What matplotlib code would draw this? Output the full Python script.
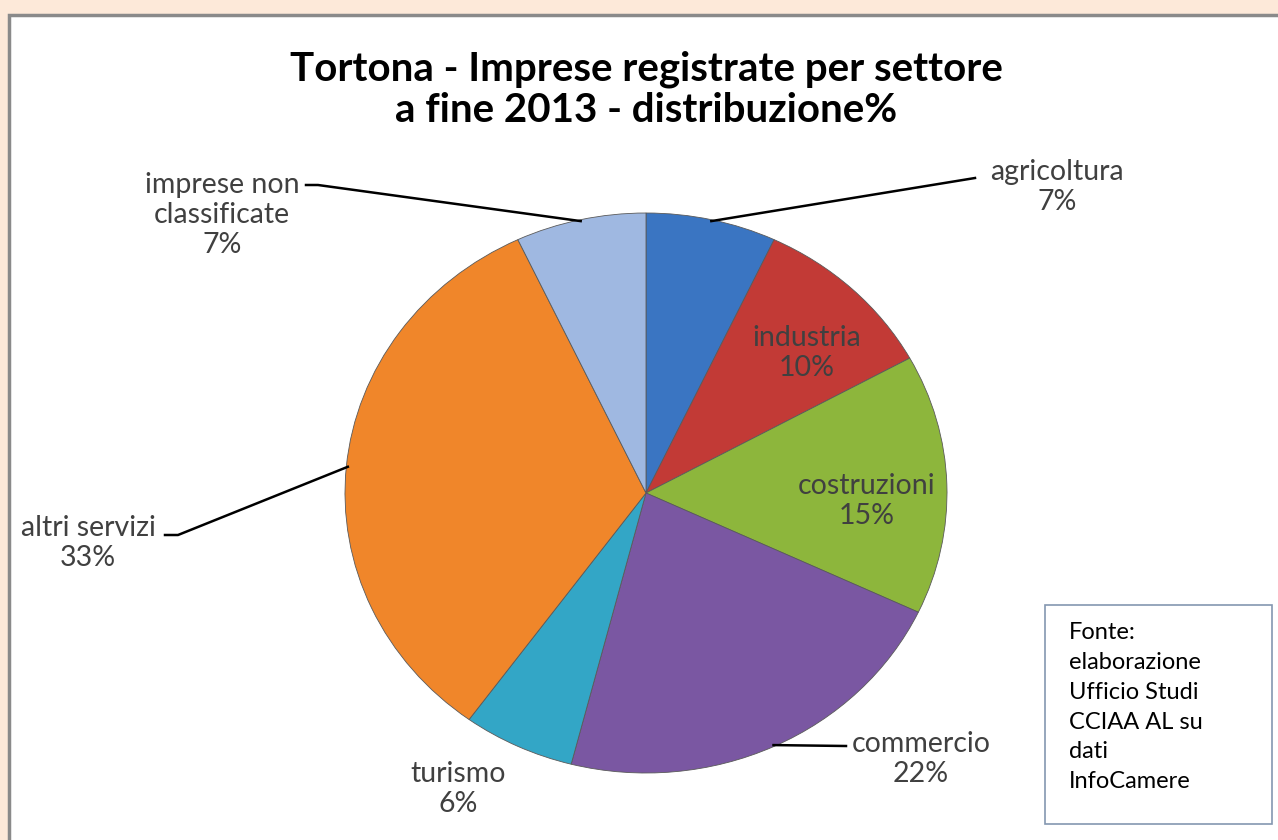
"""
Tortona - imprese registrate per settore a fine 2013.
Pie chart of the percentage distribution, drawn with matplotlib.
"""

import numpy as np
import matplotlib.pyplot as plt
from matplotlib.patches import Rectangle

# data
sectors = ["agricoltura", "industria", "costruzioni", "commercio",
           "turismo", "altri servizi", "imprese non\nclassificate"]
shares = [7, 10, 15, 22, 6, 33, 7]
colors = ["#3a75c2", "#c23a36", "#8db63c", "#7a57a2",
          "#33a6c6", "#f0862a", "#9fb8e1"]
title = "Tortona - Imprese registrate per settore\na fine 2013 - distribuzione%"
source = "Fonte:\nelaborazione\nUfficio Studi\nCCIAA AL su\ndati\nInfoCamere"

W, H = 1278, 840
plt.rcParams['font.family'] = ['Lato', 'DejaVu Sans']

fig = plt.figure(figsize=(W / 100, H / 100), dpi=100, facecolor="#fde9d9")

# white chart panel with grey border (runs off the right and bottom edges)
fig.patches.append(Rectangle((9 / W, -0.05), 1.1, 1 - 15 / H + 0.05,
                             transform=fig.transFigure, facecolor="white",
                             edgecolor="#8a8a8a", linewidth=2.5, zorder=-5))

fig.text(646 / W, 1 - 90 / H, title, ha="center", va="center",
         fontsize=29, fontweight="bold", color="black", linespacing=1.15)

# pie axes: centre (646, 493) px, radii 301 x 280 px
cx, cy, rx, ry = 646, 493, 301, 280
ax = fig.add_axes([(cx - rx) / W, (H - cy - ry) / H, 2 * rx / W, 2 * ry / H])
ax.set_zorder(1)
ax.patch.set_alpha(0)
wedges, _ = ax.pie(shares, colors=colors, startangle=90, counterclock=False,
                   radius=1,
                   wedgeprops=dict(edgecolor="#5a5a5a", linewidth=0.6))
ax.set_aspect("auto")
ax.set_xlim(-1, 1)
ax.set_ylim(-1, 1)
ax.axis("off")


def px(x, y):
    """pixel position -> pie data coordinates"""
    return (x - cx) / rx, (cy - y) / ry


def edge_point(i, r=1.0):
    """point on the pie rim at the middle of wedge i"""
    w = wedges[i]
    a = np.deg2rad((w.theta1 + w.theta2) / 2)
    return r * np.cos(a), r * np.sin(a)


label_kw = dict(ha="center", va="center", fontsize=20.5, color="#404040",
                linespacing=1.2, clip_on=False)

# label centre (px) and leader line start (px) or None
labels = [
    ((1057, 187), [(975, 178)]),
    ((807, 353), None),
    ((867, 501), None),
    ((921, 759), [(846, 746)]),
    ((458, 789), None),
    ((88, 543), [(165, 535), (178, 535)]),
    ((222, 215), [(306, 185), (318, 185)]),
]

for i, (name, val) in enumerate(zip(sectors, shares)):
    (lx, ly), leader = labels[i]
    x, y = px(lx, ly)
    ax.text(x, y, f"{name}\n{val}%", **label_kw)
    if leader:
        pts = [px(*p) for p in leader] + [edge_point(i, 0.995)]
        xs, ys = zip(*pts)
        ax.plot(xs, ys, color="black", linewidth=1.8, clip_on=False)

# source box
fig.patches.append(Rectangle((1045 / W, 1 - 824 / H), 227 / W, 219 / H,
                             transform=fig.transFigure, facecolor="white",
                             edgecolor="#8497b0", linewidth=1.2, zorder=2))
fig.text(1069 / W, 1 - 622 / H, source, ha="left", va="top", fontsize=17,
         color="black", linespacing=1.52, zorder=3)

fig.savefig("out.png", dpi=100, facecolor=fig.get_facecolor())
